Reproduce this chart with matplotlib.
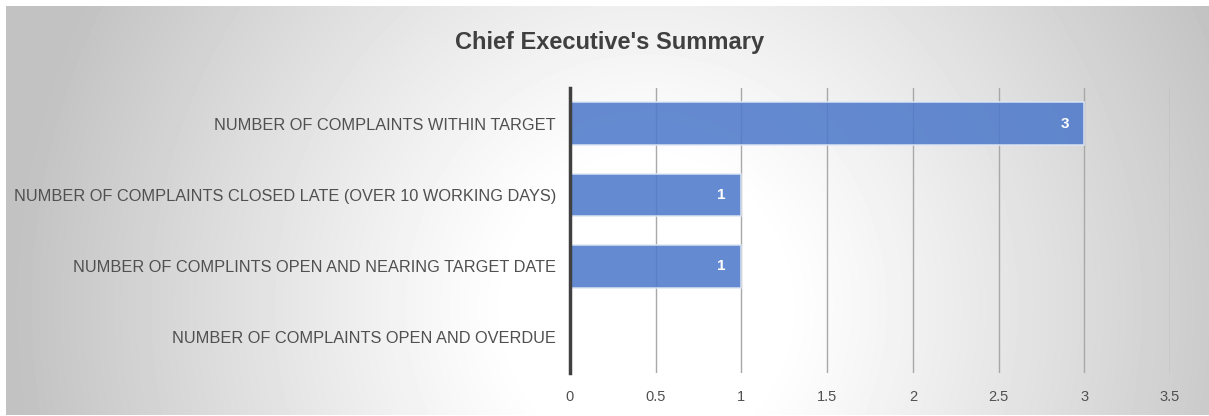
import numpy as np
import matplotlib.pyplot as plt

categories = [
    "NUMBER OF COMPLAINTS WITHIN TARGET",
    "NUMBER OF COMPLAINTS CLOSED LATE (OVER 10 WORKING DAYS)",
    "NUMBER OF COMPLINTS OPEN AND NEARING TARGET DATE",
    "NUMBER OF COMPLAINTS OPEN AND OVERDUE",
]
values = [3, 1, 1, 0]
xticks = [0, 0.5, 1, 1.5, 2, 2.5, 3, 3.5]

plt.rcParams["font.family"] = ["Liberation Sans", "DejaVu Sans"]

W, H = 1209, 416
fig = plt.figure(figsize=(W / 100, H / 100), dpi=100)

# radial grey gradient background inside the frame
bg = fig.add_axes([6 / W, 1 / H, (W - 6) / W, (H - 7) / H])
yy, xx = np.mgrid[0:409, 0:1203]
cx, cy = 640, 300
r = np.sqrt(((xx - cx) / 620) ** 2 + ((yy - cy) / 650) ** 2)
r = np.clip((r - 0.22) / 0.8, 0, 1)
shade = 1.0 - 0.24 * r ** 1.1
bg.imshow(shade, cmap="gray", vmin=0, vmax=1, aspect="auto",
          extent=[0, 1, 0, 1], interpolation="bilinear")
bg.set_axis_off()

ax = fig.add_axes([570 / W, (H - 373) / H, (1170 - 570) / W, (373 - 88) / H])
ax.set_facecolor("none")

y = np.arange(len(categories))
bars = ax.barh(y, values, height=0.6, color="#4f7acb", alpha=0.88,
               edgecolor="#dfe7f5", linewidth=1.2, zorder=2)
for b, v in zip(bars, values):
    if v > 0:
        ax.text(v - 0.09, b.get_y() + b.get_height() / 2, str(v),
                ha="right", va="center", color="white", fontsize=11,
                fontweight="bold", zorder=3)

ax.set_ylim(len(categories) - 0.5, -0.5)
ax.set_xlim(0, 3.5)
ax.set_xticks(xticks)
ax.set_xticklabels([f"{t:g}" for t in xticks])
ax.set_yticks(y)
ax.set_yticklabels(categories)
ax.tick_params(axis="both", length=0, colors="#505050")
ax.tick_params(axis="y", pad=10, labelsize=11.8)
ax.tick_params(axis="x", pad=12, labelsize=10.5)
ax.grid(axis="x", color="#a8a8a8", linewidth=1, zorder=1)
ax.set_axisbelow(True)
for s in ["top", "right", "bottom"]:
    ax.spines[s].set_visible(False)
ax.spines["left"].set_color("#404040")
ax.spines["left"].set_linewidth(2.5)
ax.spines["left"].set_zorder(4)

fig.text(610 / W, 1 - 42 / H, "Chief Executive's Summary", ha="center",
         va="center", fontsize=17, fontweight="bold", color="#404040")

fig.savefig("out.png", dpi=100)
